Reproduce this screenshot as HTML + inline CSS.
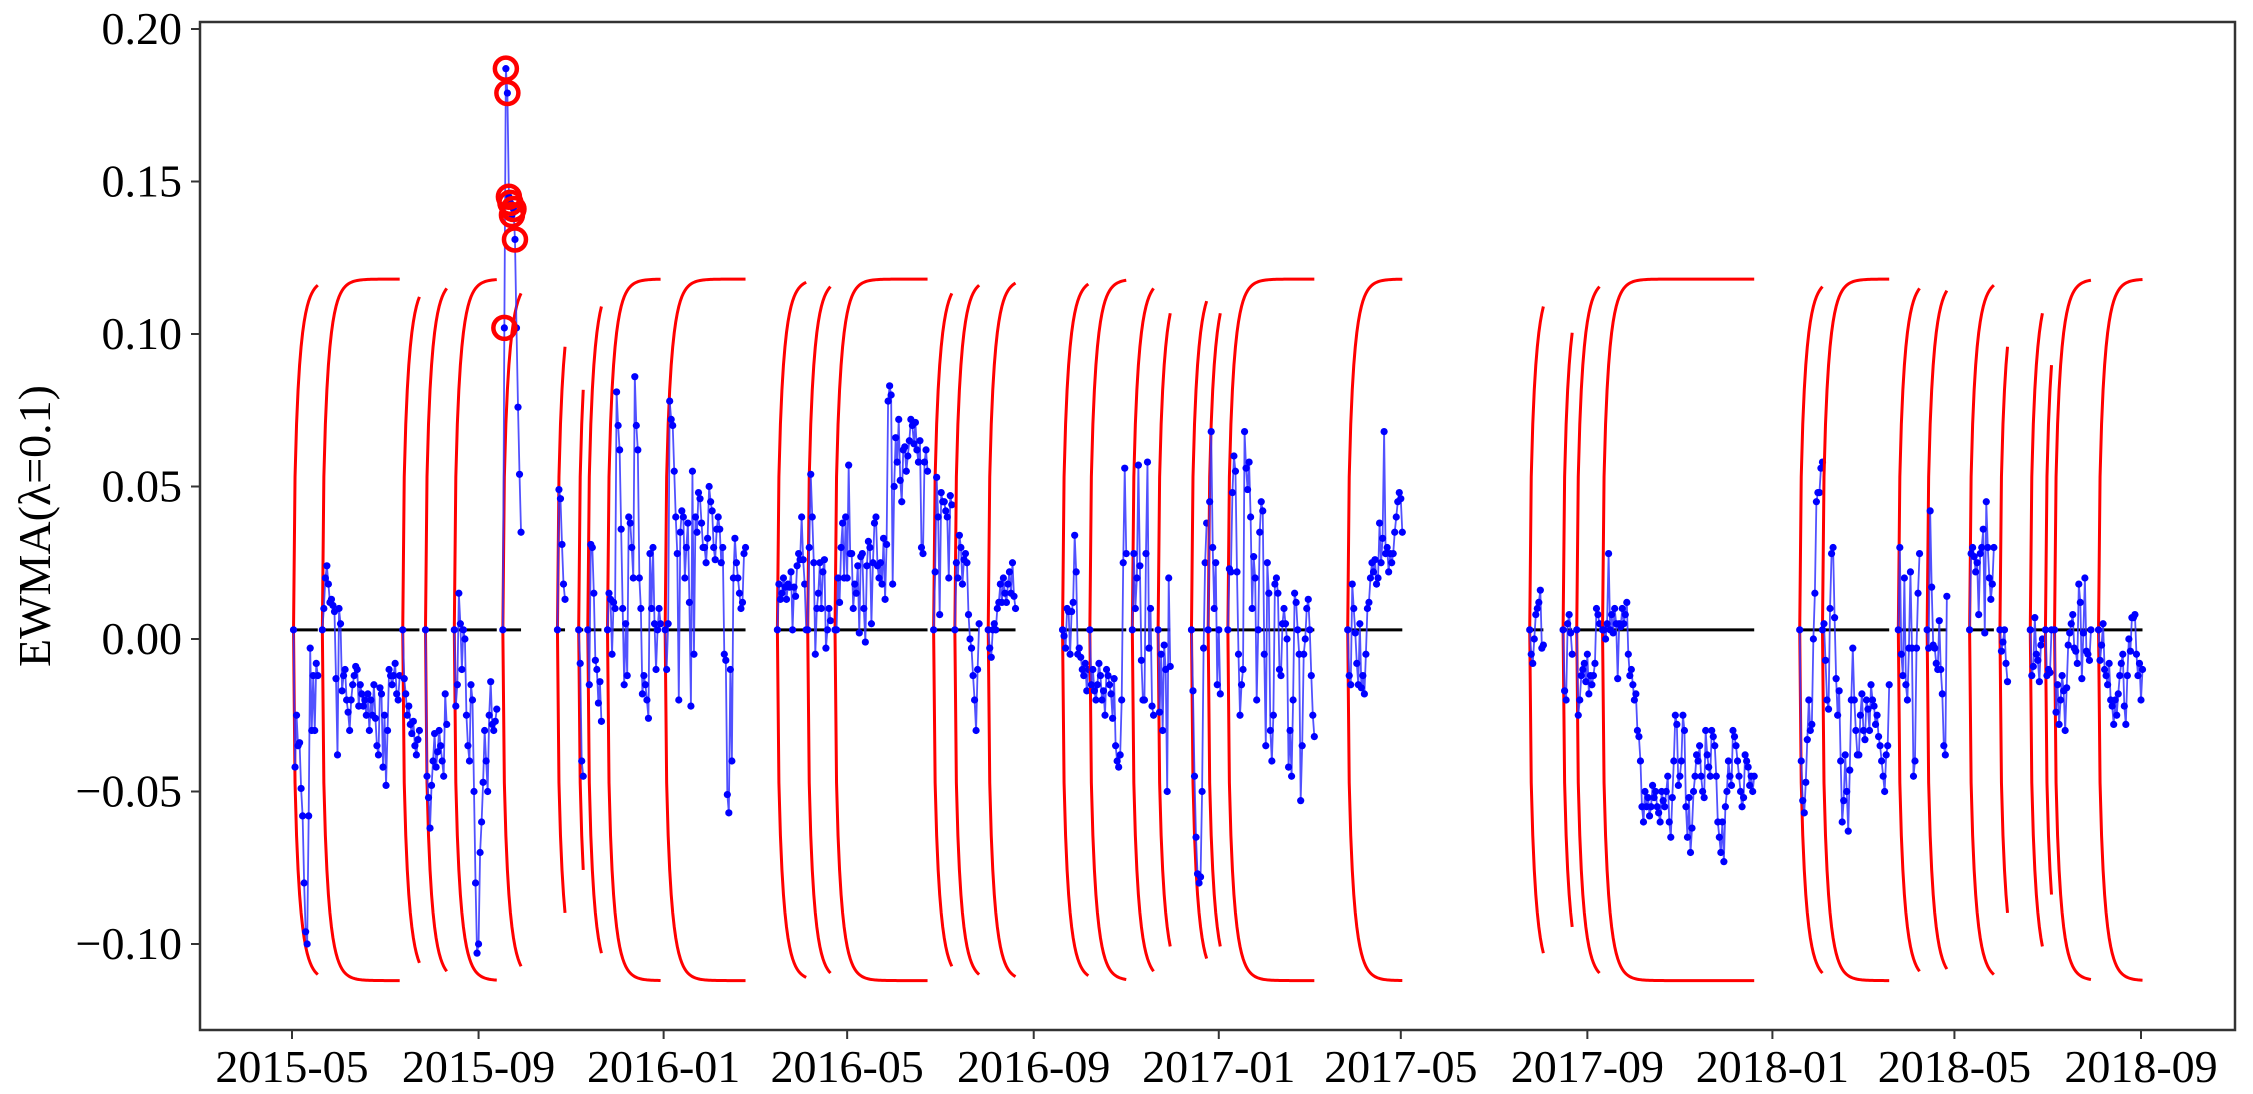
<!DOCTYPE html>
<html><head><meta charset="utf-8">
<style>
html,body{margin:0;padding:0;background:#fff;}
svg{display:block;}
text{font-family:"Liberation Serif","Times New Roman",serif;fill:#000;}
</style></head>
<body>
<svg id="chart" width="2253" height="1094" viewBox="0 0 2253 1094" xmlns="http://www.w3.org/2000/svg">
  <rect x="200" y="22" width="2035" height="1008" fill="#fff"/>
  <g id="marks"></g>
  <rect x="200" y="22" width="2035" height="1008" fill="none" stroke="#333" stroke-width="2.5"/>
  <g id="axes"></g>
  <text transform="translate(50,526) rotate(-90)" text-anchor="middle" font-size="46">EWMA(λ=0.1)</text>
</svg>
<script>
// ---- data (values in thousandths) ----
const segStartDays = [1,20,73,88,107,139,175,189,195,208,246,320,340,358,423,437,459,508,526,554,571,593,604,617,696,816,838,847,864,994,1009,1059,1078,1106,1126,1146,1156,1162,1191];
const segValues = [
[3,-42,-25,-35,-34,-49,-58,-80,-96,-100,-58,-3,-30,-12,-30,-8,-12],
[3,10,20,24,18,12,13,11,9,-13,-38,10,5,-17,-12,-10,-20,-24,-30,-20,-15,-12,-9,-10,-22,-15,-18,-22,-20,-25,-18,-30,-20,-25,-15,-26,-35,-38,-16,-18,-42,-25,-48,-30,-10,-12,-15,-12,-8,-18,-20,-12],
[3,-13,-18,-25,-22,-28,-31,-27,-35,-38,-33,-30],
[3,-45,-52,-62,-48,-40,-31,-42,-37,-30,-35,-40,-45,-18,-28],
[3,-22,-15,15,5,-10,3,0,-25,-35,-40,-15,-20,-50,-80,-103,-100,-70,-60,-47,-30,-40,-50,-25,-14,-28,-30,-27,-23],
[3,102,187,179,145,143,139,141,131,102,76,54,35],
[3,49,46,31,18,13],
[3,-8,-40,-45],
[3,-15,31,30,15,-7,-10,-21,-14,-27],
[3,15,13,-5,12,10,81,70,62,36,10,-15,5,-12,40,38,30,20,86,70,62,20,10,-18,-12,-15,-20,-26,28,10,30,5,-10,3,10,5],
[3,-10,5,78,72,70,55,40,28,-20,35,42,40,20,30,38,12,-22,55,-5,40,35,48,46,38,30,30,25,33,50,45,42,30,26,36,40,36,25,30,-5,-7,-51,-57,-10,-40,20,33,25,20,15,10,12,28,30],
[3,18,13,15,20,17,13,18,17,22,3,17,14,24,28,26,40,26,18,3],
[3,30,54,40,25,-5,10,15,25,10,22,26,-3,3,10,6],
[3,3,20,12,30,38,20,40,20,57,28,28,10,18,15,24,2,27,28,10,-1,24,32,30,5,25,38,40,24,20,25,18,33,13,31,78,83,80,18,50,66,58,72,52,45,62,63,55,60,65,72,70,64,71,62,58,65,30,28,58,62,55],
[3,22,53,40,8,48,45,45,42,40,20,47,44],
[3,25,20,34,30,18,26,28,25,8,0,-3,-12,-20,-30,-10,5],
[3,-3,-6,3,5,3,10,12,18,12,20,15,12,18,22,15,25,14,10],
[3,1,-3,10,9,-5,9,12,34,22,-5,-3,-6,-10,-12,-8,-17,-10],
[3,-15,-10,-17,-20,-15,-8,-12,-20,-17,-25,-10,-12,-15,-18,-26,-13,-35,-40,-42,-38,-20,25,56,28],
[3,28,10,20,57,24,-7,-20,-20,28,58,-3,10,-22,-25],
[3,-24,-5,-30,-2,-10,-50,20,-9],
[3,-17,-45,-65,-77,-80,-78,-50,-3,25,38],
[3,45,68,30,10,25,-15,3,-18],
[3,23,22,48,60,55,22,-5,-25,-15,-10,68,56,49,58,40,10,27,20,-20,3,35,45,42,-5,-35,25,15,-30,-40,-25,18,20,15,-10,-12,5,10,5,0,-42,-30,-45,-20,15,12,3,-5,-53,-35,-5,0,10,13,3,-12,-25,-32],
[3,-12,-15,18,10,2,-8,-15,5,-16,-12,-18,-5,10,12,20,25,22,26,18,20,38,25,33,68,28,30,22,28,25,28,35,40,45,48,46,35],
[3,-5,-8,0,8,10,12,16,-3,-2],
[3,-17,-20,5,8,2,-5],
[3,-25,-20,-12,-10,-8,-14,-5,-18,-12,-15,-12,-8,10,8,5],
[3,3,0,5,28,3,8,2,10,5,-13,5,4,10,5,8,12,-5,-12,-10,-15,-20,-18,-30,-32,-40,-55,-60,-50,-55,-52,-58,-55,-48,-52,-50,-55,-57,-60,-50,-53,-55,-50,-45,-60,-65,-52,-40,-25,-28,-48,-45,-40,-25,-30,-55,-65,-52,-70,-62,-50,-45,-38,-40,-35,-45,-50,-52,-30,-38,-42,-45,-30,-32,-35,-45,-60,-65,-70,-60,-73,-55,-50,-40,-45,-48,-30,-32,-35,-40,-45,-50,-55,-52,-38,-40,-42,-48,-45,-50,-45],
[3,-40,-53,-57,-47,-33,-20,-30,-28,0,15,45,48,48,56,58],
[3,5,-7,-20,-23,10,28,30,7,-13,-25,-17,-40,-60,-53,-38,-50,-63,-43,-20,-3,-20,-30,-38,-38,-25,-18,-30,-33,-20,-23,-30,-15,-20,-22,-28,-25,-32,-35,-40,-45,-50,-38,-35,-15],
[3,30,-5,-12,20,-15,-20,-3,22,-3,-45,-40,-3,15,28],
[3,-3,42,17,-2,-3,-8,-10,6,-10,-18,-35,-38,14],
[3,28,30,27,22,25,8,28,30,36,2,45,30,20,13,18,30],
[3,-4,-1,3,-8,-14],
[3,-12,-9,7,-5,-7,-14,-2,0],
[3,-12,-10,-11,3],
[3,-24,-15,-28,-20,-12,-17,-30,-16,-2,2,5,8,-3,-4,-8,18,12,-13,2,20,-4,-5,-7,3],
[3,-7,-2,5,-10,-12,-15,-8,-20,-22,-28,-20,-25,-18,-12,-8,-5,-22,-28,-12,0,-4,7,7,8,-5,-12,-8,-20,-10]
];
const centerLine = 0.003;
const limitWidth = 0.115;
const lambda = 0.1;
const xTickDays = [0,123,245,366,489,611,731,854,976,1096,1219];
const xTickLabels = ["2015-05","2015-09","2016-01","2016-05","2016-09","2017-01","2017-05","2017-09","2018-01","2018-05","2018-09"];
const yTickValues = [-0.10,-0.05,0.00,0.05,0.10,0.15,0.20];
const yTickLabels = ["\u22120.10","\u22120.05","0.00","0.05","0.10","0.15","0.20"];

// ---- scales ----
const NS = "http://www.w3.org/2000/svg";
function xScale(d){ return 292 + (d - 0) * (2141 - 292) / 1219; }
function yScale(v){ return 639 - v * 3050; }
function mk(tag, attrs, parent){ const e = document.createElementNS(NS, tag); for (const k in attrs) e.setAttribute(k, attrs[k]); parent.appendChild(e); return e; }

const marks = document.getElementById('marks');
const axes = document.getElementById('axes');
const q = 1 - lambda;

segValues.forEach((vals, s) => {
  const start = segStartDays[s];
  const n = vals.length;
  const g = mk('g', {}, marks);
  
  
  let up = '', lo = '';
  const ucl = [], lcl = [];
  for (let i = 0; i < n; i++) {
    const f = Math.sqrt(1 - Math.pow(q, 2 * i));
    ucl.push(centerLine + limitWidth * f);
    lcl.push(centerLine - limitWidth * f);
    const x = xScale(start + i);
    up += (i ? 'L' : 'M') + x.toFixed(2) + ' ' + yScale(ucl[i]).toFixed(2);
    lo += (i ? 'L' : 'M') + x.toFixed(2) + ' ' + yScale(lcl[i]).toFixed(2);
  }
  const cl = mk('line', {x1: xScale(start), x2: xScale(start + n - 1), y1: yScale(centerLine), y2: yScale(centerLine), stroke: '#000', 'stroke-width': 3}, g);
  
  
  const u = mk('path', {d: up, fill: 'none', stroke: '#ff0000', 'stroke-width': 3}, g);
  
  
  const l = mk('path', {d: lo, fill: 'none', stroke: '#ff0000', 'stroke-width': 3}, g);
  
  
  let dp = '';
  vals.forEach((v, i) => { dp += (i ? 'L' : 'M') + xScale(start + i).toFixed(2) + ' ' + yScale(v / 1000).toFixed(2); });
  const ln = mk('path', {d: dp, fill: 'none', stroke: '#3333ff', 'stroke-width': 1.8, 'stroke-opacity': 0.85}, g);
  
  
  vals.forEach((v, i) => {
    const c = mk('circle', {cx: xScale(start + i), cy: yScale(v / 1000), r: 3.6, fill: '#0000ff'}, g);
    
    
  });
  vals.forEach((v, i) => {
    const val = v / 1000;
    if (val > ucl[i] || val < lcl[i]) {
      const o = mk('circle', {cx: xScale(start + i), cy: yScale(val), r: 11, fill: 'none', stroke: '#ff0000', 'stroke-width': 4.5}, g);
      
      
    }
  });
});

xTickDays.forEach((d, i) => {
  const x = xScale(d);
  const t = mk('line', {x1: x, x2: x, y1: 1030, y2: 1039, stroke: '#333', 'stroke-width': 2}, axes);
  
  
  const tx = mk('text', {x: x, y: 1082, 'text-anchor': 'middle', 'font-size': 46}, axes);
  tx.textContent = xTickLabels[i];
  
  
});
yTickValues.forEach((v, i) => {
  const y = yScale(v);
  const t = mk('line', {x1: 191, x2: 200, y1: y, y2: y, stroke: '#333', 'stroke-width': 2}, axes);
  
  
  const tx = mk('text', {x: 182, y: y + 15, 'text-anchor': 'end', 'font-size': 46}, axes);
  tx.textContent = yTickLabels[i];
  
  
});
</script>
</body></html>
